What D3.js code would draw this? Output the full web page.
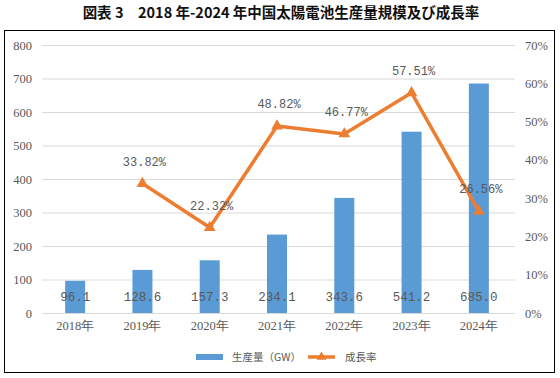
<!DOCTYPE html>
<html><head><meta charset="utf-8">
<script src="https://cdn.jsdelivr.net/npm/d3@7"></script>
<style>body{margin:0;background:#fff;} svg{display:block;}</style>
</head><body>
<svg id="c" width="560" height="378"></svg>
<script>
const years = ["2018年","2019年","2020年","2021年","2022年","2023年","2024年"];
const production = [96.1,128.6,157.3,234.1,343.6,541.2,685.0];
const productionLabels = ["96.1","128.6","157.3","234.1","343.6","541.2","685.0"];
const growthYears = ["2019年","2020年","2021年","2022年","2023年","2024年"];
const growth = [33.82,22.32,48.82,46.77,57.51,26.56];
const growthLabels = ["33.82%","22.32%","48.82%","46.77%","57.51%","26.56%"];
const leftTicks = [0,100,200,300,400,500,600,700,800];
const rightTicks = [0,10,20,30,40,50,60,70];
const title = "図表 3　2018 年-2024 年中国太陽電池生産量規模及び成長率";
const legendNames = ["生産量（GW）","成長率"];

const svg = d3.select("#c");
const blue = "#5B9BD5", orange = "#ED7D31";
const cjk = "'Noto Sans CJK JP','Noto Sans CJK SC',sans-serif";
const serif = "'Liberation Serif','DejaVu Serif',serif";
const mono = "'Liberation Mono','DejaVu Sans Mono',monospace";

svg.append("text").attr("x",281).attr("y",18).attr("text-anchor","middle")
  .attr("font-family",cjk).attr("font-weight","bold").attr("font-size",14.5)
  .attr("fill","#111").text(title);

svg.append("rect").attr("x",4.5).attr("y",30.5).attr("width",550).attr("height",342)
  .attr("fill","none").attr("stroke","#000").attr("stroke-width",1);

const x = d3.scaleBand().domain(years).range([41.5,512.5]).paddingInner(0).paddingOuter(0);
const yL = d3.scaleLinear().domain([0,800]).range([313,45]);
const yR = d3.scaleLinear().domain([0,70]).range([313,45]);

// gridlines
svg.append("g").selectAll("line").data(leftTicks).join("line")
  .attr("x1",42).attr("x2",515).attr("y1",d=>yL(d)+0.5).attr("y2",d=>yL(d)+0.5)
  .attr("stroke","#d9d9d9").attr("stroke-width",1);

// left axis
const gl = svg.append("g").attr("transform","translate(40,0)")
  .call(d3.axisLeft(yL).tickValues(leftTicks).tickSize(0).tickPadding(10));
gl.select(".domain").remove();
gl.selectAll("text").attr("font-family",serif).attr("font-size",12.5).attr("fill","#595959").attr("x",-8);

// right axis
const gr = svg.append("g").attr("transform","translate(520,0)")
  .call(d3.axisRight(yR).tickValues(rightTicks).tickSize(0).tickPadding(5).tickFormat(d=>d+"%"));
gr.select(".domain").remove();
gr.selectAll("text").attr("font-family",serif).attr("font-size",12.5).attr("fill","#595959");

// x axis
const gx = svg.append("g").attr("transform","translate(0,313)")
  .call(d3.axisBottom(x).tickSize(0).tickPadding(8));
gx.select(".domain").remove();
gx.selectAll("text").attr("font-family",serif).attr("font-size",12.5).attr("fill","#595959");

// bars
const bw = 20;
svg.append("g").selectAll("rect").data(production).join("rect")
  .attr("x",(d,i)=>x(years[i])+x.bandwidth()/2-bw/2).attr("width",bw)
  .attr("y",d=>yL(d)).attr("height",d=>yL(0)-yL(d)).attr("fill",blue);

svg.append("g").selectAll("text").data(productionLabels).join("text")
  .attr("x",(d,i)=>x(years[i])+x.bandwidth()/2).attr("y",301)
  .attr("text-anchor","middle").attr("font-family",mono).attr("font-size",12.5)
  .attr("fill","#595959").text(d=>d);

// line
const cx = (d,i)=>x(growthYears[i])+x.bandwidth()/2;
const line = d3.line().x((d,i)=>cx(d,i)).y(d=>yR(d));
svg.append("path").datum(growth).attr("d",line).attr("fill","none")
  .attr("stroke",orange).attr("stroke-width",3.5).attr("stroke-linejoin","round");
const tri = d3.symbol().type(d3.symbolTriangle).size(60);
svg.append("g").selectAll("path").data(growth).join("path")
  .attr("d",tri).attr("transform",(d,i)=>`translate(${cx(d,i)},${yR(d)})`).attr("fill",orange);

svg.append("g").selectAll("text").data(growthLabels).join("text")
  .attr("x",(d,i)=>cx(d,i)+2).attr("y",(d,i)=>yR(growth[i])-18)
  .attr("text-anchor","middle").attr("font-family",mono).attr("font-size",12)
  .attr("fill","#595959").text(d=>d);

// legend
const lg = svg.append("g");
lg.append("rect").attr("x",196).attr("y",354).attr("width",27).attr("height",6).attr("fill",blue);
lg.append("text").attr("x",232).attr("y",361).attr("font-family",cjk).attr("font-size",10.5)
  .attr("fill","#595959").text(legendNames[0]);
lg.append("line").attr("x1",308).attr("x2",335).attr("y1",357).attr("y2",357)
  .attr("stroke",orange).attr("stroke-width",3.5);
lg.append("path").attr("d",d3.symbol().type(d3.symbolTriangle).size(40)).attr("transform","translate(321.5,357)").attr("fill",orange);
lg.append("text").attr("x",345).attr("y",361).attr("font-family",cjk).attr("font-size",10.5)
  .attr("fill","#595959").text(legendNames[1]);
</script>
</body></html>
